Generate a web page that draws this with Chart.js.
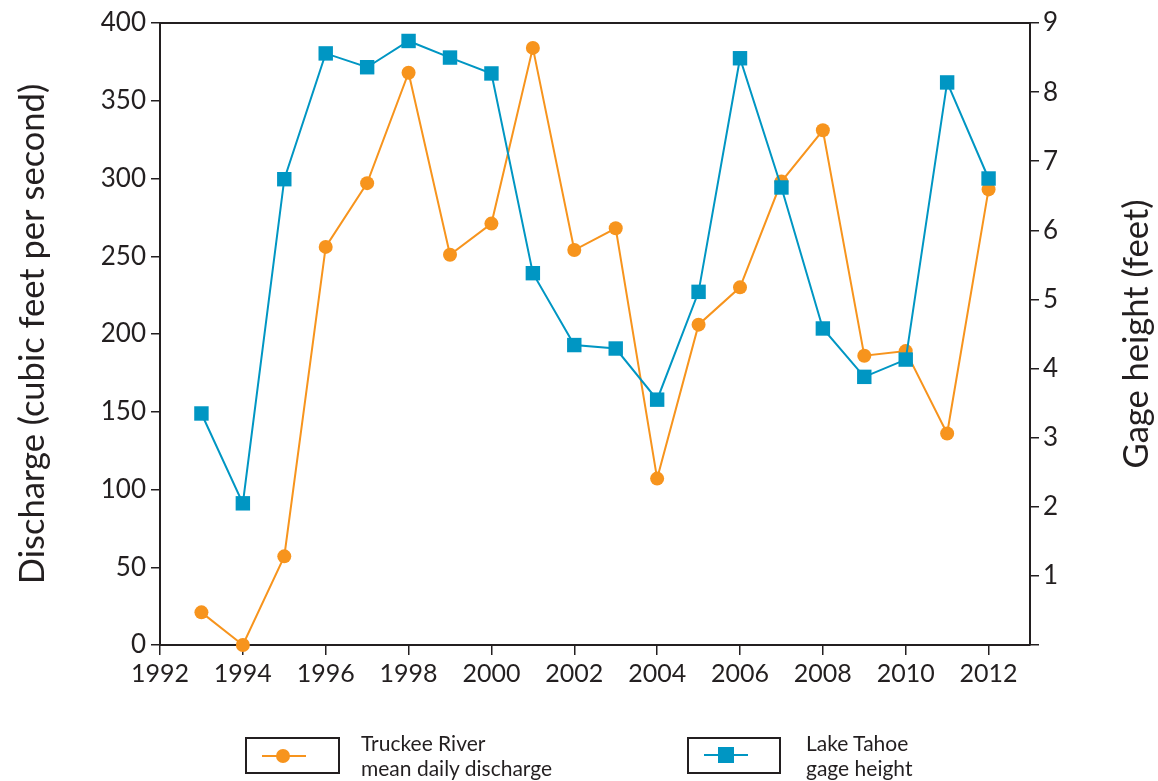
<!DOCTYPE html>
<html>
<head>
<meta charset="utf-8">
<script src="https://cdn.jsdelivr.net/npm/chart.js@4"></script>
<style>
  html, body { margin: 0; padding: 0; background: #fff; }
  #wrap { position: relative; width: 1158px; height: 781px; overflow: hidden; }
  #c { position: absolute; left: 0; top: 0; }
  .lgbox { position: absolute; box-sizing: border-box; border: 2px solid #231f20; height: 37px; top: 737px; }
  .lgline { position: absolute; height: 2px; }
  .lgtext { position: absolute; top: 730px; font-family: Lato, sans-serif; font-size: 21px; line-height: 25px; color: #231f20; white-space: nowrap; }
</style>
</head>
<body>
<div id="wrap">
  <canvas id="c" width="1158" height="781"></canvas>
  <div class="lgbox" style="left:245px;width:95px;"></div>
  <div class="lgline" style="left:262px;width:44px;top:755px;background:#F7941D;"></div>
  <div style="position:absolute;left:276px;top:749px;width:14px;height:14px;border-radius:50%;background:#F7941D;"></div>
  <div class="lgtext" style="left:361px;">Truckee River<br>mean daily discharge</div>
  <div class="lgbox" style="left:687px;width:94px;"></div>
  <div class="lgline" style="left:704px;width:44px;top:754px;background:#0096C3;"></div>
  <div style="position:absolute;left:718px;top:747px;width:16px;height:16px;background:#0096C3;"></div>
  <div class="lgtext" style="left:806px;">Lake Tahoe<br>gage height</div>
</div>
<script>
const years = [1993,1994,1995,1996,1997,1998,1999,2000,2001,2002,2003,2004,2005,2006,2007,2008,2009,2010,2011,2012];
const discharge = [21,0,57,256,297,368,251,271,384,254,268,107,206,230,298,331,186,189,136,293];
const gageHeight = [3.35,2.05,6.74,8.56,8.36,8.74,8.50,8.27,5.38,4.34,4.29,3.55,5.11,8.49,6.62,4.58,3.88,4.13,8.14,6.75];
const dischargeTicks = [0,50,100,150,200,250,300,350,400];
const gageTicks = [0,1,2,3,4,5,6,7,8,9];
const yearTicks = [1992,1994,1996,1998,2000,2002,2004,2006,2008,2010,2012];
const leftTitle = 'Discharge (cubic feet per second)';
const rightTitle = 'Gage height (feet)';

const INK = '#231f20';
const ORANGE = '#F7941D';
const BLUE = '#0096C3';
const FONT = 'Lato, sans-serif';

const framePlugin = {
  id: 'frame',
  afterDraw(chart) {
    const {ctx, chartArea} = chart;
    ctx.save();
    ctx.strokeStyle = INK;
    ctx.lineWidth = 2;
    ctx.beginPath();
    ctx.moveTo(chartArea.left - 1, chartArea.top);
    ctx.lineTo(chartArea.right + 1, chartArea.top);
    ctx.stroke();
    // right axis title, reading upward
    ctx.fillStyle = INK;
    ctx.font = '34.5px ' + FONT;
    ctx.textAlign = 'center';
    ctx.textBaseline = 'middle';
    ctx.translate(1137, (chartArea.top + chartArea.bottom) / 2);
    ctx.rotate(-Math.PI / 2);
    ctx.fillText(rightTitle, 0, 0);
    ctx.restore();
  }
};

new Chart(document.getElementById('c'), {
  type: 'line',
  data: {
    datasets: [
      {
        label: 'Lake Tahoe gage height',
        data: years.map((y, i) => ({x: y, y: gageHeight[i]})),
        yAxisID: 'y1',
        borderColor: BLUE,
        backgroundColor: BLUE,
        borderWidth: 2,
        pointStyle: 'rect',
        pointRadius: 10.2,
        pointBorderWidth: 0,
        tension: 0
      },
      {
        label: 'Truckee River mean daily discharge',
        data: years.map((y, i) => ({x: y, y: discharge[i]})),
        yAxisID: 'y',
        borderColor: ORANGE,
        backgroundColor: ORANGE,
        borderWidth: 2,
        pointStyle: 'circle',
        pointRadius: 7,
        pointBorderWidth: 0,
        tension: 0
      }
    ]
  },
  options: {
    responsive: false,
    animation: false,
    clip: false,
    layout: { padding: { top: 23, left: 0, right: 0, bottom: 0 } },
    plugins: { legend: { display: false }, tooltip: { enabled: false } },
    scales: {
      x: {
        type: 'linear',
        position: 'bottom',
        min: 1992, max: 2013,
        afterBuildTicks: s => { s.ticks = yearTicks.map(v => ({value: v})); },
        ticks: {
          includeBounds: false,
          color: INK, font: { family: FONT, size: 25 }, padding: 4,
          maxRotation: 0, autoSkip: false,
          callback: v => String(v)
        },
        grid: { drawOnChartArea: false, drawTicks: true, tickLength: 10, color: INK, lineWidth: 1.5 },
        border: { display: true, color: INK, width: 2 },
        afterFit: s => { s.height = 136; }
      },
      y: {
        type: 'linear',
        position: 'left',
        min: 0, max: 400,
        afterBuildTicks: s => { s.ticks = dischargeTicks.map(v => ({value: v})); },
        ticks: { color: INK, font: { family: FONT, size: 26 }, padding: 5, callback: v => String(v) },
        grid: { drawOnChartArea: false, drawTicks: true, tickLength: 9, color: INK, lineWidth: 1.5 },
        border: { display: true, color: INK, width: 2 },
        title: { display: true, text: leftTitle, color: INK, font: { family: FONT, size: 34.5, lineHeight: 1 }, padding: { top: 16, bottom: 0 } },
        afterFit: s => { s.width = 160; }
      },
      y1: {
        type: 'linear',
        position: 'right',
        min: 0, max: 9,
        afterBuildTicks: s => { s.ticks = gageTicks.map(v => ({value: v})); },
        ticks: { color: INK, font: { family: FONT, size: 26 }, padding: 4, callback: v => v === 0 ? '' : String(v) },
        grid: { drawOnChartArea: false, drawTicks: true, tickLength: 9, color: INK, lineWidth: 1.5 },
        border: { display: true, color: INK, width: 2 },
        afterFit: s => { s.width = 128; }
      }
    }
  },
  plugins: [framePlugin]
});
</script>
</body>
</html>
